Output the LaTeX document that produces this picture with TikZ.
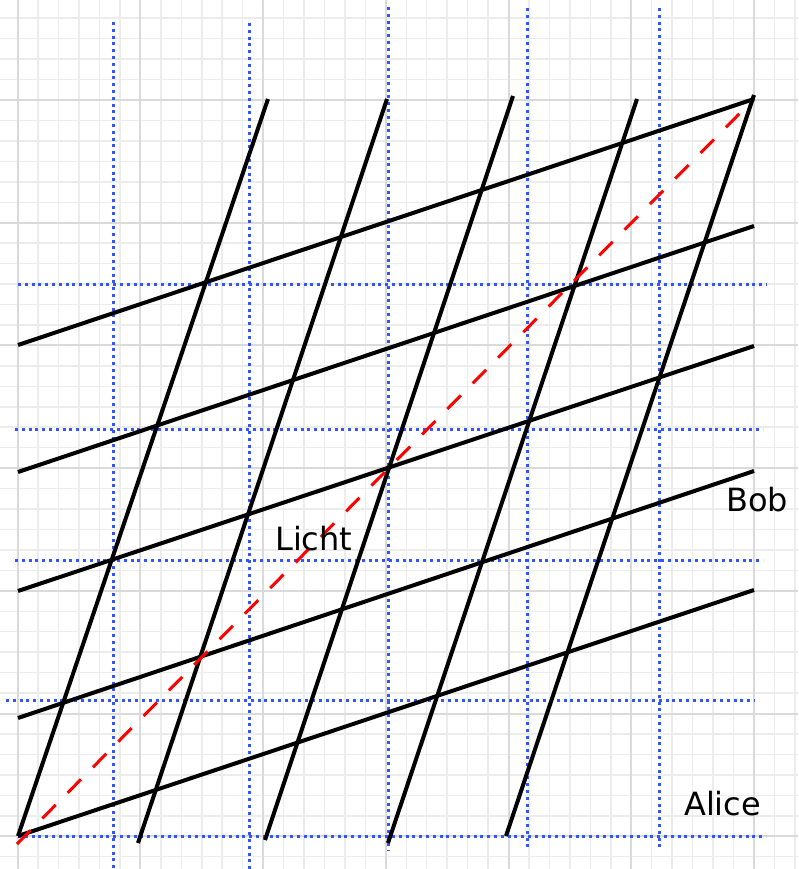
\documentclass[tikz,border=0pt]{standalone}
\usepackage{fontspec}
\setmainfont{DejaVu Sans}
\definecolor{bluedot}{RGB}{50,85,255}
\definecolor{minorgrid}{RGB}{236,236,236}
\definecolor{majorgrid}{RGB}{218,218,218}
\begin{document}
\begin{tikzpicture}[x=1pt,y=-1pt,
  minorline/.style={draw=minorgrid,line width=1.5pt},
  majorline/.style={draw=majorgrid,line width=2pt},
  bluedots/.style={draw=bluedot,line width=3pt,dash pattern=on 3pt off 3.8pt},
  frameline/.style={draw=black,line width=4pt},
  lightline/.style={draw=red,line width=3pt,dash pattern=on 19pt off 17pt},
  lbl/.style={inner sep=0pt,anchor=base west,font=\fontsize{32}{38}\selectfont}]
\useasboundingbox (0,0) rectangle (798,869);
\fill[white] (0,0) rectangle (798,869);
% grey grid
\foreach \k in {0,...,38} { \draw[minorline] ({17.7+20.45*\k},0) -- ({17.7+20.45*\k},869); }
\foreach \k in {0,...,41} { \draw[minorline] (0,{18.2+20.45*\k}) -- (798,{18.2+20.45*\k}); }
\foreach \k in {0,...,6} { \draw[majorline] ({17.7+122.7*\k},0) -- ({17.7+122.7*\k},869); }
\foreach \k in {0,...,6} { \draw[majorline] (0,{100+122.7*\k}) -- (798,{100+122.7*\k}); }
% blue dotted lines (Alice)
\foreach \n/\x/\ya/\yb in {1/113/22/869, 2/249/23/869, 3/388/7/851, 4/527/8/851, 5/659/8/851} {
  \coordinate (bv\n a) at (\x,\ya);
  \coordinate (bv\n b) at (\x,\yb);
  \draw[bluedots] (bv\n a) -- (bv\n b);
}
\foreach \n/\y/\xa/\xb in {1/284/18/767, 2/429/15/763, 3/560/15/763, 4/700/6/755, 5/836/18/766} {
  \coordinate (bh\n a) at (\xa,\y);
  \coordinate (bh\n b) at (\xb,\y);
  \draw[bluedots] (bh\n a) -- (bh\n b);
}
% Bob's world lines
\foreach \n/\xa/\ya/\xb/\yb in {1/18/836/268/99, 2/138/843/387/99, 3/265/840/513/96, 4/388/843/637/99, 5/506/836/754/95} {
  \coordinate (w\n a) at (\xa,\ya);
  \coordinate (w\n b) at (\xb,\yb);
  \draw[frameline] (w\n a) -- (w\n b);
}
% Bob's lines of simultaneity
\foreach \n/\ya/\yb in {1/836/590, 2/718/471, 3/591/346, 4/472/226, 5/345/99} {
  \coordinate (s\n a) at (18,\ya);
  \coordinate (s\n b) at (754,\yb);
  \draw[frameline] (s\n a) -- (s\n b);
}
% light
\coordinate (la) at (17,844);
\coordinate (lb) at (747,106);
\draw[lightline] (la) -- (lb);
% labels
\node[lbl] (licht) at (275,550) {Licht};
\node[lbl] (bob) at (726,511) {Bob};
\node[lbl] (alice) at (684,815) {Alice};
\end{tikzpicture}
\end{document}
